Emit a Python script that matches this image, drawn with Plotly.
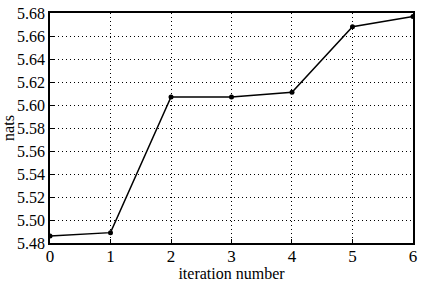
import plotly.graph_objects as go

iterations = [0, 1, 2, 3, 4, 5, 6]
nats = [5.486, 5.489, 5.607, 5.607, 5.611, 5.668, 5.677]
y_ticks = [5.48, 5.50, 5.52, 5.54, 5.56, 5.58, 5.60, 5.62, 5.64, 5.66, 5.68]
y_ticklabels = ["%.2f" % v for v in y_ticks]

fig = go.Figure()
fig.add_trace(go.Scatter(
    x=iterations, y=nats, mode="lines+markers",
    line=dict(color="black", width=1.5),
    marker=dict(color="black", size=5),
    showlegend=False,
))

font = dict(family="Liberation Serif", size=16, color="black")
fig.update_layout(
    width=422, height=282,
    margin=dict(l=50, r=5, t=6, b=37),
    paper_bgcolor="white", plot_bgcolor="white",
    font=font,
)
fig.update_xaxes(
    range=[0, 6.0002], tickvals=iterations, ticktext=[str(i) for i in iterations],
    showgrid=True, gridcolor="black", griddash="1px,3px", gridwidth=1,
    showline=True, linecolor="black", linewidth=1.5, mirror=True,
    ticks="inside", ticklen=4, tickcolor="black",
    ticklabeloverflow="allow", ticklabelstandoff=-3,
    tickfont=dict(family="Liberation Serif", size=17, color="black"),
    title=dict(text="iteration number", font=dict(family="Liberation Serif", size=16), standoff=0),
    zeroline=False,
)
fig.update_yaxes(
    range=[5.48, 5.68002], tickvals=y_ticks, ticktext=y_ticklabels,
    showgrid=True, gridcolor="black", griddash="1px,3px", gridwidth=1,
    showline=True, linecolor="black", linewidth=1.5, mirror=True,
    ticks="inside", ticklen=4, tickcolor="black",
    ticklabeloverflow="allow",
    tickfont=dict(family="Liberation Serif", size=16, color="black"),
    title=dict(text="nats", font=dict(family="Liberation Serif", size=16), standoff=0),
    zeroline=False,
)
fig.write_html("out.html")
